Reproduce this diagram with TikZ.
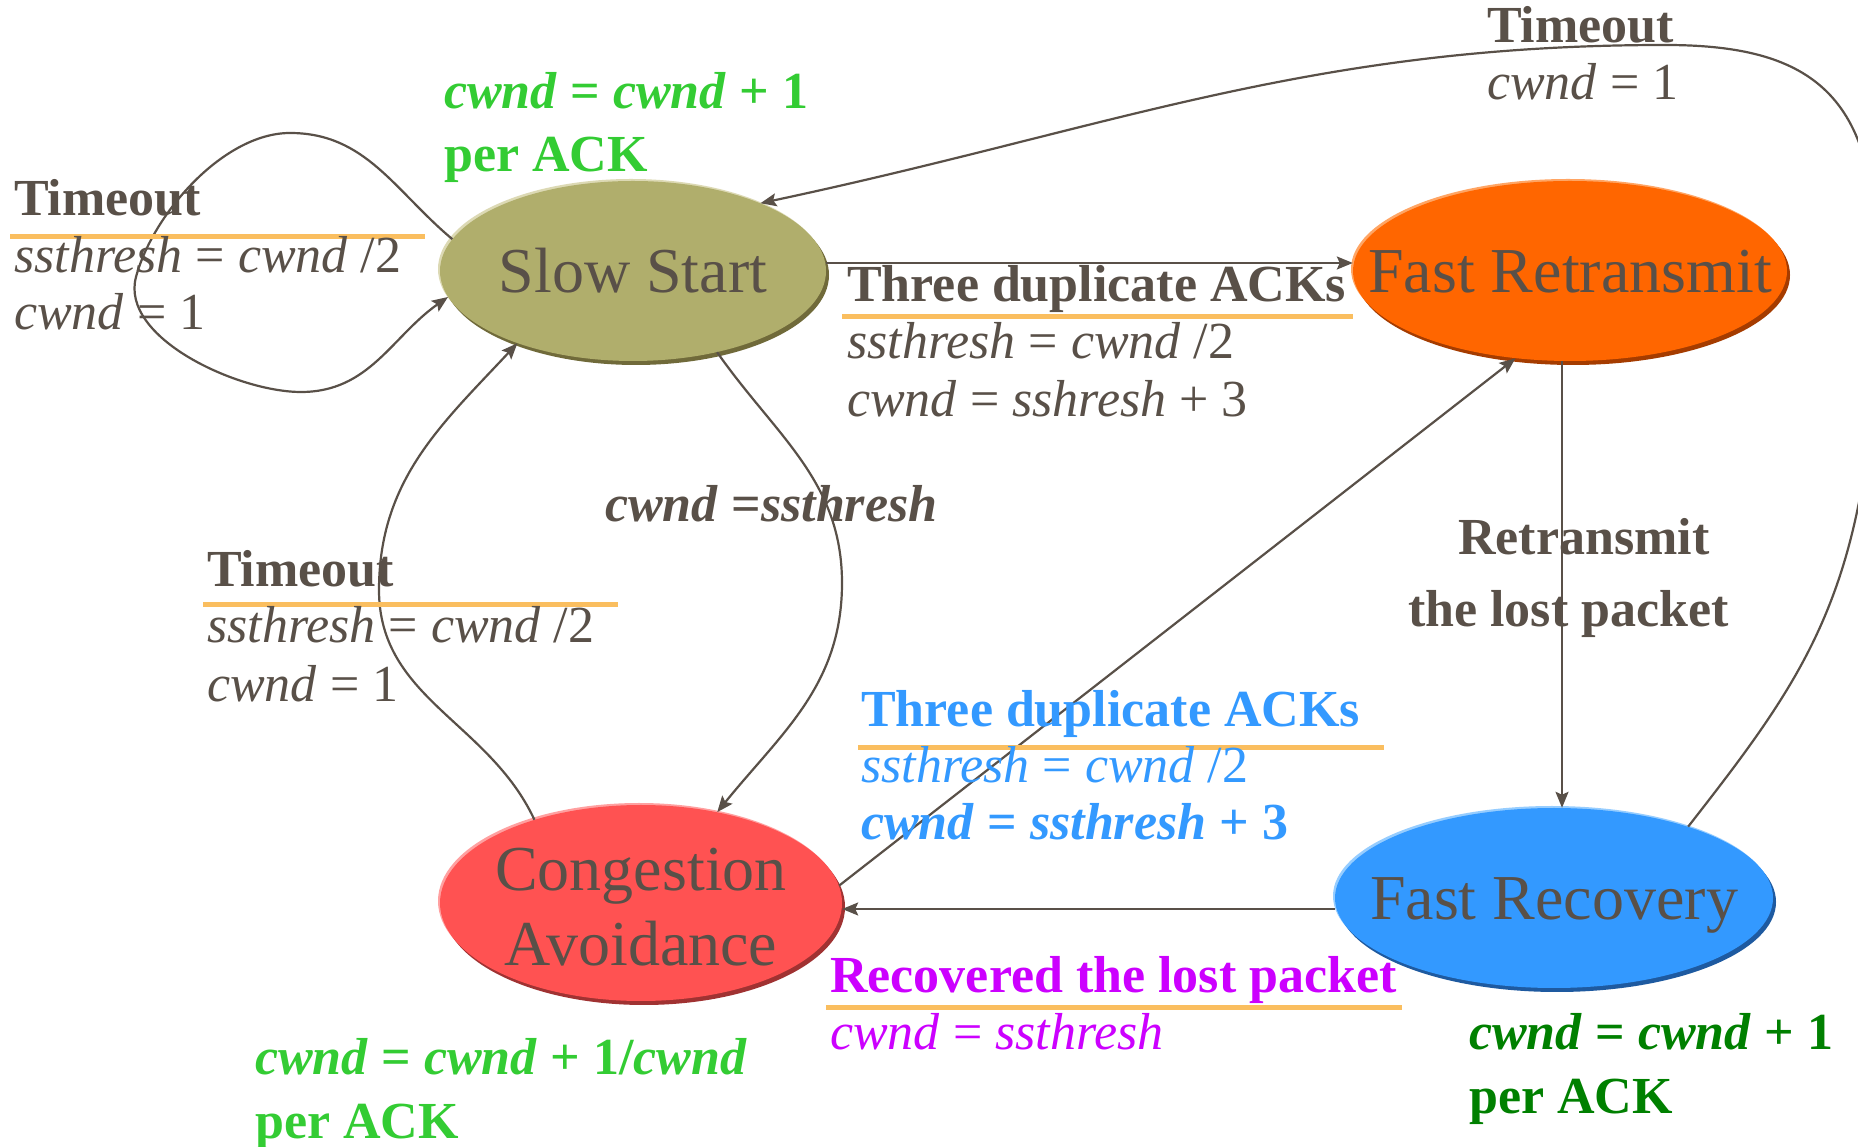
\documentclass[tikz,border=0pt]{standalone}
\usepackage{fontspec}
\setmainfont{Liberation Serif}
\usetikzlibrary{shapes.geometric,arrows.meta,shadows,calc}

\definecolor{txt}{RGB}{89,80,72}
\definecolor{ul}{RGB}{250,190,95}
\definecolor{ssfill}{RGB}{176,174,108}
\definecolor{ssdark}{RGB}{112,106,58}
\definecolor{sslight}{RGB}{220,217,180}
\definecolor{frtfill}{RGB}{255,102,0}
\definecolor{frtdark}{RGB}{165,60,0}
\definecolor{frtlight}{RGB}{255,165,100}
\definecolor{cafill}{RGB}{255,82,82}
\definecolor{cadark}{RGB}{160,50,50}
\definecolor{calight}{RGB}{255,160,160}
\definecolor{frcfill}{RGB}{51,153,255}
\definecolor{frcdark}{RGB}{30,90,160}
\definecolor{frclight}{RGB}{150,205,255}
\definecolor{blu}{RGB}{51,153,255}
\definecolor{mag}{RGB}{204,0,255}
\definecolor{grn}{RGB}{51,204,51}
\definecolor{dgrn}{RGB}{0,128,0}

\newcommand\statefont{\fontsize{64}{75}\selectfont}
\newcommand\lblfont{\fontsize{52}{57}\selectfont}

\begin{document}
\begin{tikzpicture}[x=1pt,y=1pt,
  state/.style={ellipse, inner sep=0pt, text=txt, font=\statefont,
    text height=43pt, text depth=0pt},
  sh/.style n args={2}{general shadow={shadow xshift=-2pt, shadow yshift=2pt, fill=#1},
    general shadow={shadow xshift=3pt, shadow yshift=-4pt, fill=#2}},
  arr/.style={draw=txt, line width=2.2pt, -{Stealth[length=16pt,width=13pt,inset=3pt]}},
  lbl/.style={anchor=base west, inner sep=0pt, font=\lblfont, text=txt},
  lblb/.style={lbl, font=\lblfont\bfseries},
  stxt/.style={anchor=base, inner sep=0pt, text=txt, font=\statefont},
  uline/.style={draw=ul, line width=5pt},
]
\fill[white] (0,0) rectangle (1858,1146);
\useasboundingbox (0,0) rectangle (1858,1146);

% states
\node[state, minimum width=386pt, minimum height=180pt, fill=ssfill, sh={sslight}{ssdark}]
  (ss) at (633,875) {\makebox[0pt]{Slow Start}};
\node[state, minimum width=434pt, minimum height=180pt, fill=frtfill, sh={frtlight}{frtdark}]
  (frt) at (1570,875) {\makebox[0pt]{Fast Retransmit}};
\node[state, minimum width=402pt, minimum height=196pt, fill=cafill, sh={calight}{cadark}]
  (ca) at (641,243) {};
\node[stxt] (ca1) at (641,255) {Congestion};
\node[stxt] (ca2) at (641,180) {Avoidance};
\node[state, minimum width=438pt, minimum height=180pt, fill=frcfill, sh={frclight}{frcdark}]
  (frc) at (1554,248) {\makebox[0pt]{Fast Recovery}};

% connectors
\draw[arr] ([yshift=8pt]ss.east) -- ([yshift=8pt]frt.west);
\draw[arr] ([xshift=-8pt]frt.south) -- ([xshift=8pt]frc.north);
\draw[arr] ([yshift=-11pt]frc.west) -- ([yshift=-6pt]ca.east);
\draw[arr] (ca.5) -- (frt.238);
\draw[arr] (ss.170) to[out=140,in=0] (290,1013) to[out=180,in=75,looseness=0.8] (136,869)
  to[out=-105,in=180,looseness=0.8] (301,754) to[out=0,in=215] (ss.188);
\draw[arr] (ss.-44) to[out=-55,in=90] (842,563) to[out=-90,in=51] (ca.50);
\draw[arr] (ca.142) to[out=115,in=-90] (379,556) to[out=90,in=227] (ss.212);
\draw[arr] (frc.28) to[out=52,in=-100] (1862,660) to[out=80,in=-90] (1875,896)
  .. controls (1875,1060) and (1800,1101) .. (1665,1101) to[out=180,in=12] (ss.28);

% underlines
\draw[uline] (10,909) -- (425,909);
\draw[uline] (842,829) -- (1353,829);
\draw[uline] (203,541) -- (618,541);
\draw[uline] (858,398) -- (1384,398);
\draw[uline] (826,138) -- (1402,138);

% labels
\node[lblb] (t1a) at (14,930) {Timeout};
\node[lbl] (t1b) at (14,873) {\textit{ssthresh} = \textit{cwnd} /2};
\node[lbl] (t1c) at (14,816) {\textit{cwnd} = 1};

\node[lblb, text=grn] (g1a) at (444,1037) {\textit{cwnd} = \textit{cwnd} + 1};
\node[lblb, text=grn] (g1b) at (444,974) {per ACK};

\node[lblb] (t2a) at (1487,1103) {Timeout};
\node[lbl] (t2b) at (1487,1046) {\textit{cwnd} = 1};

\node[lblb] (d1a) at (847,844) {Three duplicate ACKs};
\node[lbl] (d1b) at (847,787) {\textit{ssthresh} = \textit{cwnd} /2};
\node[lbl] (d1c) at (847,729) {\textit{cwnd} = \textit{sshresh} + 3};

\node[lblb] (cs) at (605,624) {\textit{cwnd} =\textit{ssthresh}};

\node[lblb] (t3a) at (207,559) {Timeout};
\node[lbl] (t3b) at (207,503) {\textit{ssthresh} = \textit{cwnd} /2};
\node[lbl] (t3c) at (207,444) {\textit{cwnd} = 1};

\node[lblb] (r1) at (1458,591) {Retransmit};
\node[lblb] (r2) at (1408,519) {the lost packet};

\node[lblb, text=blu] (d2a) at (861,419) {Three duplicate ACKs};
\node[lbl, text=blu] (d2b) at (861,363) {\textit{ssthresh} = \textit{cwnd} /2};
\node[lblb, text=blu] (d2c) at (861,306) {\textit{cwnd} = \textit{ssthresh} + 3};

\node[lblb, text=mag] (m1) at (830,153) {Recovered the lost packet};
\node[lbl, text=mag] (m2) at (830,96) {\textit{cwnd} = \textit{ssthresh}};

\node[lblb, text=grn] (g2a) at (255,71) {\textit{cwnd} = \textit{cwnd} + 1/\textit{cwnd}};
\node[lblb, text=grn] (g2b) at (255,8) {per ACK};

\node[lblb, text=dgrn] (g3a) at (1469,96) {\textit{cwnd} = \textit{cwnd} + 1};
\node[lblb, text=dgrn] (g3b) at (1469,33) {per ACK};
\end{tikzpicture}
\end{document}
